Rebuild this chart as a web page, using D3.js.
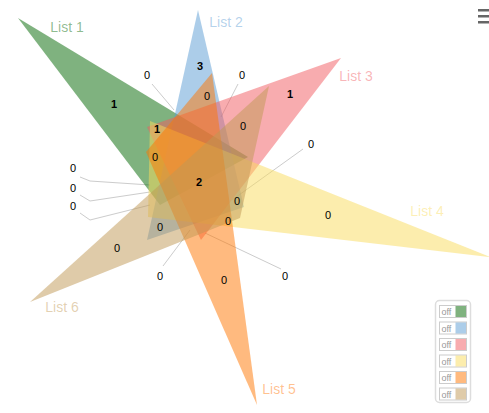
<!DOCTYPE html>
<html lang="en">
<head>
    <meta charset="UTF-8">
    <title>Venn - 6 lists</title>
    <script src="https://cdnjs.cloudflare.com/ajax/libs/d3/7.8.5/d3.min.js"></script>
    <style>
        body {
            margin: 0;
            background-color: white;
            font-family: "Liberation Sans", Arial, sans-serif;
        }
        .count { font-size: 11px; fill: #000; }
        .count.big { font-weight: bold; }
        .leader { fill: none; stroke: #ccc; stroke-width: 1; }
    </style>
</head>
<body>
<div id="chart"></div>
<script>
    const listNames = ['List 1', 'List 2', 'List 3', 'List 4', 'List 5', 'List 6'];
    const listColors = ['rgb(0,102,0)', 'rgb(90,155,212)', 'rgb(241,90,96)',
        'rgb(250,220,91)', 'rgb(255,117,0)', 'rgb(192,152,83)'];

    // triangle of each list in the 489 x 413 frame of the venn
    const listShapes = [
        [[18, 18], [160, 205], [248, 157]],
        [[198, 10], [147, 240], [244, 207]],
        [[341, 58], [147, 127], [201, 240]],
        [[490, 257], [150, 121], [148, 217]],
        [[257, 405], [146, 152], [212, 73]],
        [[30, 302], [269, 86], [240, 218]]
    ];
    const listLabelAt = [[67, 27], [226, 22], [356, 76], [427, 211], [279, 389], [62, 307]];

    // number of elements in each region of the diagram
    const regionCounts = [1, 3, 0, 0, 0, 1, 0, 1, 0, 2, 0, 0, 0, 0, 0, 0, 0, 0, 0, 0, 0, 0];
    const regionAt = [
        [114, 104], [200, 66], [207, 96], [147, 75], [242, 75], [290, 94], [243, 126],
        [157, 129], [155, 157], [199, 182], [311, 144], [73, 168], [73, 188], [73, 206],
        [237, 201], [228, 221], [328, 215], [160, 227], [117, 248], [160, 276], [224, 280],
        [285, 276]
    ];
    // leader lines for the tiny regions: [region index, points]
    const leaders = [
        [3, [[152, 84], [174, 110]]],
        [4, [[238, 84], [221, 117]]],
        [10, [[303, 149], [232, 200]]],
        [11, [[80, 177], [90, 181], [150, 185]]],
        [12, [[80, 195], [90, 201], [150, 192]]],
        [13, [[80, 213], [90, 220], [150, 205]]],
        [19, [[163, 266], [190, 230]]],
        [21, [[281, 269], [205, 233]]]
    ];

    function onLoad() {
        const width = 489;
        const height = 413;

        const x = d3.scaleLinear().domain([0, 489]).range([0, width]);
        const y = d3.scaleLinear().domain([0, 413]).range([0, height]);

        const svg = d3.select('#chart')
            .append('svg')
            .attr('width', width)
            .attr('height', height);

        const line = d3.line().x(d => x(d[0])).y(d => y(d[1]));

        svg.append('g').selectAll('path')
            .data(leaders)
            .enter()
            .append('path')
            .attr('class', 'leader')
            .attr('d', d => line(d[1]));

        svg.append('g').selectAll('path')
            .data(listShapes)
            .enter()
            .append('path')
            .attr('d', d => line(d) + 'Z')
            .attr('fill', (_, i) => listColors[i])
            .attr('fill-opacity', 0.5);

        svg.append('g').selectAll('text')
            .data(listNames)
            .enter()
            .append('text')
            .attr('x', (_, i) => x(listLabelAt[i][0]))
            .attr('y', (_, i) => y(listLabelAt[i][1]))
            .attr('text-anchor', 'middle')
            .attr('dominant-baseline', 'central')
            .attr('font-size', 14)
            .attr('fill', (_, i) => listColors[i])
            .attr('fill-opacity', 0.45)
            .text(d => d);

        svg.append('g').selectAll('text')
            .data(regionCounts)
            .enter()
            .append('text')
            .attr('class', d => d > 0 ? 'count big' : 'count')
            .attr('x', (_, i) => x(regionAt[i][0]))
            .attr('y', (_, i) => y(regionAt[i][1]))
            .attr('text-anchor', 'middle')
            .attr('dominant-baseline', 'central')
            .text(d => d);

        // menu icon
        svg.append('g').selectAll('rect')
            .data([0, 1, 2])
            .enter()
            .append('rect')
            .attr('x', 478).attr('y', d => 9 + d * 6)
            .attr('width', 12).attr('height', 2.5)
            .attr('fill', '#666');

        // legend with on/off switches
        const legend = svg.append('g').attr('id', 'legend');
        legend.append('rect')
            .attr('x', 435.5).attr('y', 300.5)
            .attr('width', 35).attr('height', 102)
            .attr('rx', 4)
            .attr('fill', 'white')
            .attr('stroke', '#ddd')
            .attr('stroke-width', 1.5);

        const btn = legend.selectAll('g.btn')
            .data(listNames)
            .enter()
            .append('g')
            .attr('class', 'btn')
            .attr('transform', (_, i) => `translate(439.5, ${305.5 + i * 16.5})`);
        btn.append('rect')
            .attr('width', 27).attr('height', 12)
            .attr('fill', 'white')
            .attr('stroke', '#ccc');
        btn.append('rect')
            .attr('x', 16).attr('y', 0.5)
            .attr('width', 10.5).attr('height', 11)
            .attr('fill', (_, i) => listColors[i])
            .attr('fill-opacity', 0.5);
        btn.append('text')
            .attr('x', 2).attr('y', 9.5)
            .attr('font-size', 9)
            .attr('fill', '#999')
            .text('off');
    }

    document.addEventListener('DOMContentLoaded', onLoad);
</script>
</body>
</html>
